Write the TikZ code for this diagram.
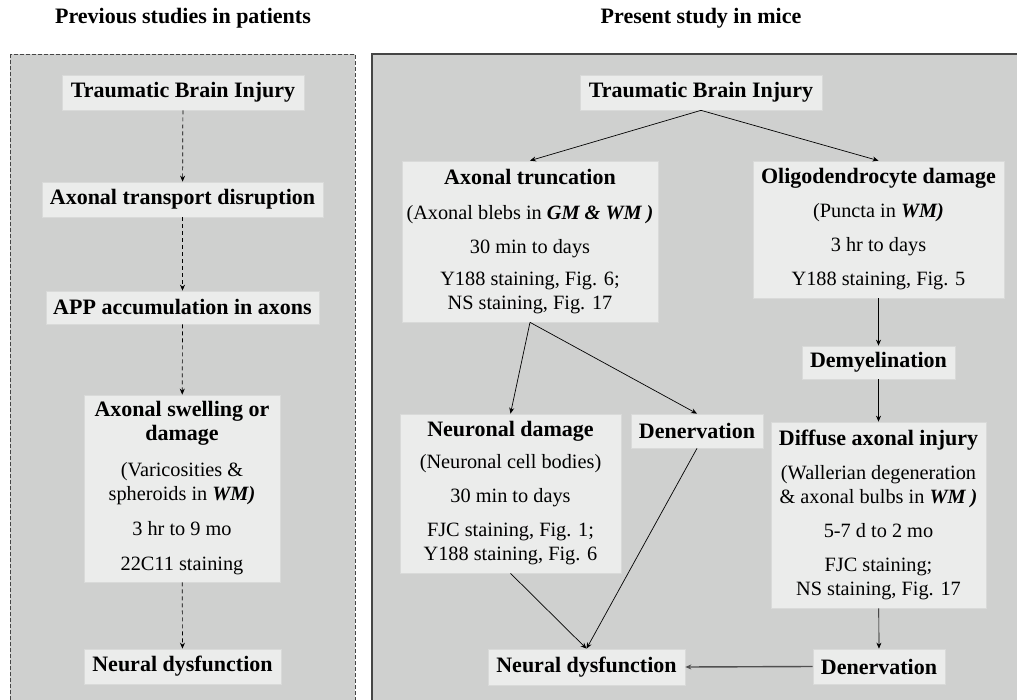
\documentclass[tikz,border=0pt]{standalone}
\usepackage{fontspec}
\setmainfont{Liberation Serif}
\usetikzlibrary{arrows.meta}
\definecolor{panel}{HTML}{CFD0CF}
\definecolor{boxfill}{HTML}{EBECEB}
\definecolor{boxline}{HTML}{D9DAD9}
\definecolor{frame}{HTML}{454545}
\definecolor{greyarrow}{HTML}{505050}
\newcommand\hd[1]{{\fontsize{22}{26}\selectfont\bfseries #1}}
\newcommand\bi[1]{\textbf{\textit{#1}}}
\begin{document}
\begin{tikzpicture}[x=1pt,y=-1pt,
  box/.style={fill=boxfill,draw=boxline,line width=0.7pt,inner sep=0pt,align=center,
    font=\fontsize{20.3}{24}\selectfont},
  arr/.style={-{Stealth[length=6pt,width=5pt]},line width=0.7pt,black},
  darr/.style={arr,dash pattern=on 4pt off 3pt},
  ttl/.style={font=\fontsize{22}{26}\selectfont\bfseries}]
\useasboundingbox (0,0) rectangle (1017,700);
\fill[white] (0,0) rectangle (1017,700);
% panels
\filldraw[fill=panel,draw=frame,dash pattern=on 4pt off 2pt,line width=0.8pt] (10,54) rectangle (355,712);
\filldraw[fill=panel,draw=frame,line width=1.2pt] (372,54) rectangle (1030,712);
% titles
\node[ttl] (t1) at (183,18.5) {Previous studies in patients};
\node[ttl] (t2) at (701,18.5) {Present study in mice};
% left column
\node[box,minimum width=242pt,minimum height=35pt] (lTBI) at (183,92.5) {\hd{Traumatic Brain Injury}};
\node[box,minimum width=281pt,minimum height=35pt] (lATD) at (182.5,199.5) {\hd{Axonal transport disruption}};
\node[box,minimum width=273pt,minimum height=33pt] (lAPP) at (182.5,307.5) {\hd{APP accumulation in axons}};
\node[box,minimum width=196pt,minimum height=187pt] (lAS) at (182,488.5) {\hd{Axonal swelling or}\\ \hd{damage}\\[12pt]
  (Varicosities \&\\ spheroids in \bi{WM)}\\[11pt] 3 hr to 9 mo\\[11pt] 22C11 staining};
\node[box,minimum width=197pt,minimum height=35pt] (lND) at (182.5,666.5) {\hd{Neural dysfunction}};
\draw[darr] (lTBI) -- (lATD);
\draw[darr] (lATD) -- (lAPP);
\draw[darr] (lAPP) -- (lAS);
\draw[darr] (lAS) -- (lND);
% right column
\node[box,minimum width=242pt,minimum height=35pt] (rTBI) at (701,92.5) {\hd{Traumatic Brain Injury}};
\node[box,minimum width=256pt,minimum height=161pt] (rAT) at (530,241.5) {\hd{Axonal truncation}\\[11pt]
  (Axonal blebs in \bi{GM \& WM )}\\[10pt] 30 min to days\\[8pt] Y188 staining, Fig. 6;\\ NS staining, Fig. 17};
\node[box,minimum width=251pt,minimum height=137pt] (rOD) at (878.5,229.5) {\hd{Oligodendrocyte damage}\\[10pt]
  (Puncta in \bi{WM)}\\[10pt] 3 hr to days\\[10pt] Y188 staining, Fig. 5};
\node[box,minimum width=153pt,minimum height=33pt] (rDM) at (878.5,362.5) {\hd{Demyelination}};
\node[box,minimum width=221pt,minimum height=159pt] (rNeD) at (510.5,493.5) {\hd{Neuronal damage}\\[8pt]
  (Neuronal cell bodies)\\[10pt] 30 min to days\\[10pt] FJC staining, Fig. 1;\\ Y188 staining, Fig. 6};
\node[box,minimum width=132pt,minimum height=34pt] (rDen1) at (697,431) {\hd{Denervation}};
\node[box,minimum width=215pt,minimum height=186pt] (rDAI) at (878.5,515) {\hd{Diffuse axonal injury}\\[10pt]
  (Wallerian degeneration\\ \& axonal bulbs in \bi{WM )}\\[10pt] 5-7 d to 2 mo\\[10pt] FJC staining;\\ NS staining, Fig. 17};
\node[box,minimum width=197pt,minimum height=36pt] (rND) at (586.5,667) {\hd{Neural dysfunction}};
\node[box,minimum width=132pt,minimum height=35pt] (rDen2) at (879,666.5) {\hd{Denervation}};
\draw[arr] (rTBI.south) -- (rAT.north);
\draw[arr] (rTBI.south) -- (rOD.north);
\draw[arr] (rAT.south) -- (rNeD.north);
\draw[arr] (rAT.south) -- (rDen1.north);
\draw[arr] (rOD) -- (rDM);
\draw[arr] (rDM) -- (rDAI);
\draw[arr] (rDAI) -- (rDen2);
\draw[arr] (rNeD.south) -- (rND.north);
\draw[arr] (rDen1.south) -- (rND.north);
\draw[arr,greyarrow,line width=1.4pt] (rDen2.west) -- (rND.east);
\end{tikzpicture}
\end{document}
